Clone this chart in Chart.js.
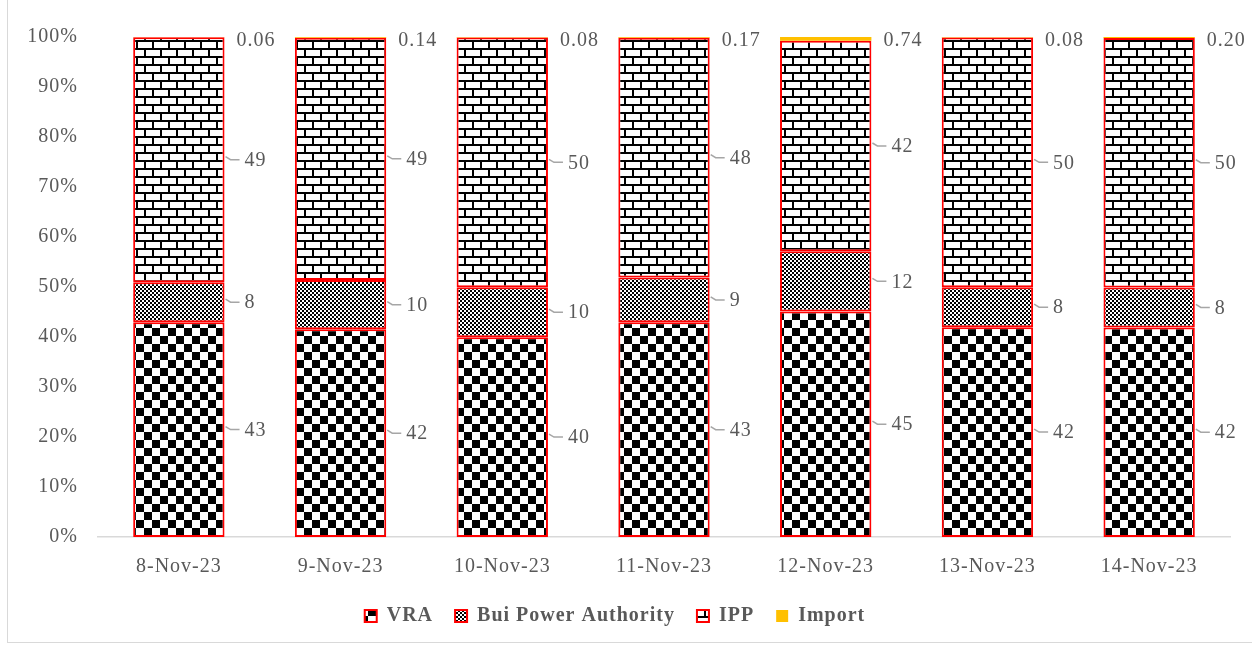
<!DOCTYPE html>
<html>
<head>
<meta charset="utf-8">
<script src="https://cdn.jsdelivr.net/npm/chart.js@4/dist/chart.umd.min.js"></script>
<style>
  body { margin: 0; background: #fff; }
  #wrap { width: 1252px; height: 648px; }
</style>
</head>
<body>
<div id="wrap"><canvas id="myChart" width="1252" height="648"></canvas></div>
<script>
var days = ['8-Nov-23', '9-Nov-23', '10-Nov-23', '11-Nov-23', '12-Nov-23', '13-Nov-23', '14-Nov-23'];
var vra = [43, 42, 40, 43, 45, 42, 42];
var bui = [8, 10, 10, 9, 12, 8, 8];
var ipp = [49, 49, 50, 48, 42, 50, 50];
var imports = [0.06, 0.14, 0.08, 0.17, 0.74, 0.08, 0.20];

var FONT = "'Liberation Serif', serif";
var GREY = '#595959';

// share of each day's total, so every bar fills 100%
function share(arr) {
  return arr.map(function (v, i) {
    var total = vra[i] + bui[i] + ipp[i] + imports[i];
    return v / total * 100;
  });
}

function tile(size, paint) {
  var c = document.createElement('canvas');
  c.width = size; c.height = size;
  var g = c.getContext('2d');
  g.fillStyle = '#fff';
  g.fillRect(0, 0, size, size);
  g.fillStyle = '#000';
  paint(g);
  return document.createElement('canvas').getContext('2d').createPattern(c, 'repeat');
}

var bigChecker = tile(16, function (g) {
  g.fillRect(0, 0, 8, 8);
  g.fillRect(8, 8, 8, 8);
});
var smallChecker = tile(4, function (g) {
  g.fillRect(0, 0, 2, 2);
  g.fillRect(2, 2, 2, 2);
});
var brick = tile(16, function (g) {
  g.fillRect(0, 0, 16, 2);
  g.fillRect(0, 8, 16, 2);
  g.fillRect(0, 0, 2, 8);
  g.fillRect(8, 8, 2, 8);
});

// the original font is wider than Liberation Serif, so loosen the letters a bit
var spacingPlugin = {
  id: 'spacing',
  beforeLayout: function (chart) { chart.ctx.letterSpacing = '1px'; },
  beforeDraw: function (chart) { chart.ctx.letterSpacing = '1px'; }
};

var labelPlugin = {
  id: 'segLabels',
  afterDatasetsDraw: function (chart) {
    var ctx = chart.ctx;
    ctx.save();
    ctx.font = '20px ' + FONT;
    ctx.fillStyle = GREY;
    ctx.textBaseline = 'middle';
    ctx.textAlign = 'left';
    chart.data.datasets.forEach(function (ds, di) {
      var meta = chart.getDatasetMeta(di);
      meta.data.forEach(function (bar, i) {
        var right = bar.x + bar.width / 2;
        var raw = ds.labels[i];
        var isImport = ds.label === 'Import';
        var txt = isImport ? raw.toFixed(2) : String(raw);
        var y = isImport ? bar.y + 3 : (bar.y + bar.base) / 2;
        if (!isImport) {
          ctx.strokeStyle = '#a6a6a6';
          ctx.lineWidth = 1.5;
          ctx.beginPath();
          ctx.moveTo(right + 1, y - 3);
          ctx.lineTo(right + 6, y);
          ctx.lineTo(right + 15, y);
          ctx.stroke();
          ctx.fillText(txt, right + 20, y + 1);
        } else {
          ctx.fillText(txt, right + 12, y + 1);
        }
      });
    });
    ctx.restore();
  }
};

var framePlugin = {
  id: 'frame',
  afterDraw: function (chart) {
    var ctx = chart.ctx;
    ctx.save();
    ctx.strokeStyle = '#d9d9d9';
    ctx.lineWidth = 1;
    ctx.strokeRect(7.5, -5, 1260, 647.5);
    ctx.restore();
  }
};

function series(label, values, fill, border) {
  return {
    label: label,
    data: share(values),
    labels: values,
    backgroundColor: fill,
    borderColor: border,
    borderWidth: 2,
    borderSkipped: false
  };
}

var ctx = document.getElementById('myChart').getContext('2d');
var stackChart = new Chart(ctx, {
  type: 'bar',
  data: {
    labels: days,
    datasets: [
      series('VRA', vra, bigChecker, '#ff0000'),
      series('Bui Power Authority', bui, smallChecker, '#ff0000'),
      series('IPP', ipp, brick, '#ff0000'),
      {
        label: 'Import',
        data: share(imports),
        labels: imports,
        backgroundColor: '#ffc000',
        borderColor: '#ffc000',
        borderWidth: 0,
        borderSkipped: false
      }
    ]
  },
  plugins: [spacingPlugin, labelPlugin, framePlugin],
  options: {
    responsive: false,
    animation: false,
    layout: { padding: { left: 0, right: 22, top: 37, bottom: 12 } },
    datasets: { bar: { categoryPercentage: 1, barPercentage: 0.565 } },
    scales: {
      x: {
        stacked: true,
        afterFit: function (scale) { scale.height -= 5; },
        grid: { display: false },
        border: { display: true, color: '#d9d9d9', width: 1.5 },
        ticks: { color: GREY, font: { family: FONT, size: 20 }, padding: 10 }
      },
      y: {
        stacked: true,
        min: 0,
        max: 100,
        afterFit: function (scale) { scale.width = 98; },
        grid: { display: false, drawTicks: false },
        border: { display: false },
        ticks: {
          stepSize: 10,
          color: GREY,
          padding: 20,
          font: { family: FONT, size: 20 },
          callback: function (v) { return v + '%'; }
        }
      }
    },
    plugins: {
      tooltip: { enabled: false },
      legend: {
        position: 'bottom',
        labels: {
          color: GREY,
          boxWidth: 12,
          boxHeight: 12,
          padding: 22,
          font: { family: FONT, size: 20, weight: 'bold' }
        }
      }
    }
  }
});
</script>
</body>
</html>
